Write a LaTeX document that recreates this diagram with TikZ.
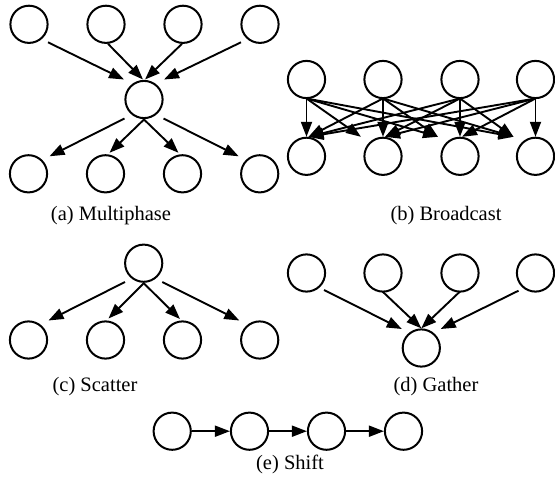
\documentclass[tikz,border=0pt]{standalone}
\usepackage{fontspec}
\setmainfont{Liberation Serif}
\usetikzlibrary{arrows.meta,calc}
\begin{document}
\begin{tikzpicture}[x=1pt,y=-1pt,
  nd/.style={circle,draw,line width=2pt,minimum size=37.2pt,inner sep=0pt},
  ar/.style={line width=1.9pt,-{Triangle[length=15pt,width=11pt]}},
  lbl/.style={anchor=base,font=\fontsize{20.5}{24}\selectfont,inner sep=0pt}]
\useasboundingbox (0,0) rectangle (555,482);
% (a) Multiphase
\node[nd] (a1) at (29,24.3) {};
\node[nd] (a2) at (106,24.3) {};
\node[nd] (a3) at (183,24.3) {};
\node[nd] (a4) at (260,24.3) {};
\node[nd] (am) at (144,99.5) {};
\node[nd] (ab1) at (28.5,173.8) {};
\node[nd] (ab2) at (105.5,173.8) {};
\node[nd] (ab3) at (182.5,173.8) {};
\node[nd] (ab4) at (259.7,173.8) {};
\draw[ar] ($(a1)+(19,18)$) -- ($(am)+(-20,-20)$);
\draw[ar] ($(a2)+(2,19.5)$) -- ($(am)+(-1,-20)$);
\draw[ar] ($(a3)+(-1,19.5)$) -- ($(am)+(1,-20)$);
\draw[ar] ($(a4)+(-19,18)$) -- ($(am)+(20,-20)$);
\draw[ar] ($(am)+(-19.5,19)$) -- ($(ab1)+(21,-17.5)$);
\draw[ar] ($(am)+(0,20)$) -- ($(ab2)+(4,-21)$);
\draw[ar] ($(am)+(0,20)$) -- ($(ab3)+(-4,-21)$);
\draw[ar] ($(am)+(19.5,19)$) -- ($(ab4)+(-21,-17.5)$);
\node[lbl] (la) at (111,220) {(a) Multiphase};
% (b) Broadcast
\node[nd] (b1) at (306.5,79.5) {};
\node[nd] (b2) at (383,79.5) {};
\node[nd] (b3) at (460,79.5) {};
\node[nd] (b4) at (535.5,79.5) {};
\node[nd] (bb1) at (306.5,156.3) {};
\node[nd] (bb2) at (383,156.3) {};
\node[nd] (bb3) at (460,156.3) {};
\node[nd] (bb4) at (535.5,156.3) {};
\foreach \i in {1,...,4}{
  \foreach \j in {1,...,4}{
    \pgfmathsetmacro\dx{\i==\j ? 0 : (\i<\j ? -22 : 2)}
    \draw[ar] ($(b\i)+(0,19)$) -- ($(bb\j)+(\dx,-19.5)$);
  }
}
\node[lbl] (lb) at (446,220) {(b) Broadcast};
% (c) Scatter
\node[nd] (s) at (143.7,263.2) {};
\node[nd] (c1) at (28.5,340) {};
\node[nd] (c2) at (105.5,340) {};
\node[nd] (c3) at (182.5,340) {};
\node[nd] (c4) at (259.7,340) {};
\draw[ar] ($(s)+(-18.7,18.8)$) -- ($(c1)+(20,-19.5)$);
\draw[ar] ($(s)+(0,20)$) -- ($(c2)+(3,-21.5)$);
\draw[ar] ($(s)+(0,20)$) -- ($(c3)+(-2.5,-21)$);
\draw[ar] ($(s)+(18.6,18.8)$) -- ($(c4)+(-20.4,-19.5)$);
\node[lbl] (lc) at (95,391) {(c) Scatter};
% (d) Gather
\node[nd] (d1) at (306.5,273) {};
\node[nd] (d2) at (383,273) {};
\node[nd] (d3) at (460,273) {};
\node[nd] (d4) at (535.5,273) {};
\node[nd] (g) at (421.3,348) {};
\draw[ar] ($(d1)+(17.5,17)$) -- ($(g)+(-19.5,-19)$);
\draw[ar] ($(d2)+(-0.5,18.5)$) -- ($(g)+(0,-19.7)$);
\draw[ar] ($(d3)+(0,18.5)$) -- ($(g)+(0,-19.7)$);
\draw[ar] ($(d4)+(-17,17.7)$) -- ($(g)+(19.4,-19)$);
\node[lbl] (ld) at (436,391) {(d) Gather};
% (e) Shift
\node[nd] (e1) at (172.2,431.2) {};
\node[nd] (e2) at (249.5,431.2) {};
\node[nd] (e3) at (326.5,431.2) {};
\node[nd] (e4) at (403.5,431.2) {};
\draw[ar] (e1) -- (e2);
\draw[ar] (e2) -- (e3);
\draw[ar] (e3) -- (e4);
\node[lbl] (le) at (290,469) {(e) Shift};
\end{tikzpicture}
\end{document}
